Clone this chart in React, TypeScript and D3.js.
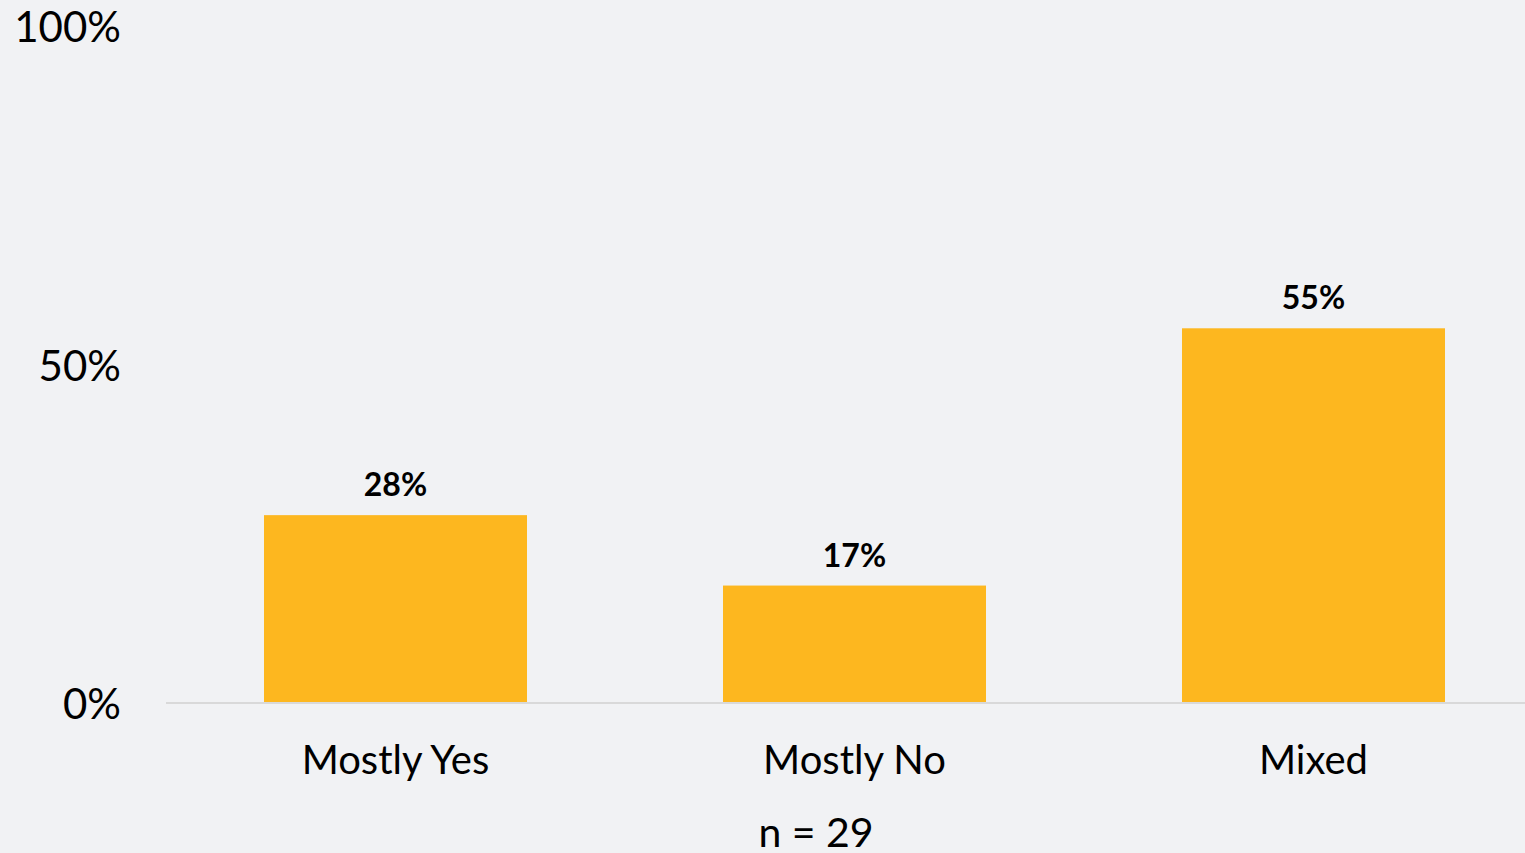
import React from "react";
import * as d3 from "d3";

const categories = ["Mostly Yes", "Mostly No", "Mixed"];
const values = [27.6, 17.2, 55.2];
const valueLabels = ["28%", "17%", "55%"];
const yTicks = [0, 50, 100];
const yTickLabels = ["0%", "50%", "100%"];
const sampleNote = "n = 29";

const W = 1525;
const H = 853;
const FONT = "Lato, 'Open Sans', sans-serif";

export default function App() {
  const x = d3
    .scaleBand<string>()
    .domain(categories)
    .range([166, 1543])
    .paddingInner(0.427)
    .paddingOuter(0.2135);
  const y = d3.scaleLinear().domain([0, 100]).range([702, 25]);

  return (
    <svg
      width={W}
      height={H}
      style={{ position: "fixed", left: 0, top: 0, display: "block" }}
    >
      <rect x={0} y={0} width={W} height={H} fill="#f1f2f4" />
      {yTicks.map((t, i) => (
        <text
          key={t}
          x={121}
          y={y(t) + 2}
          dy="0.36em"
          textAnchor="end"
          fontFamily={FONT}
          fontSize={42}
          fill="#000"
        >
          {yTickLabels[i]}
        </text>
      ))}
      {categories.map((c, i) => (
        <g key={c}>
          <rect
            x={x(c)}
            y={y(values[i])}
            width={x.bandwidth()}
            height={y(0) - y(values[i])}
            fill="#fdb71f"
          />
          <text
            x={(x(c) as number) + x.bandwidth() / 2}
            y={y(values[i]) - 19}
            textAnchor="middle"
            fontFamily={FONT}
            fontWeight={700}
            fontSize={32}
            fill="#000"
          >
            {valueLabels[i]}
          </text>
          <text
            x={(x(c) as number) + x.bandwidth() / 2}
            y={760}
            dy="0.36em"
            textAnchor="middle"
            fontFamily={FONT}
            fontSize={40}
            fill="#000"
          >
            {c}
          </text>
        </g>
      ))}
      <line x1={166} x2={W} y1={y(0) + 1} y2={y(0) + 1} stroke="#d9d9d9" strokeWidth={2} />
      <text
        x={816}
        y={832}
        dy="0.36em"
        textAnchor="middle"
        fontFamily={FONT}
        fontSize={41}
        fill="#000"
      >
        {sampleNote}
      </text>
    </svg>
  );
}
